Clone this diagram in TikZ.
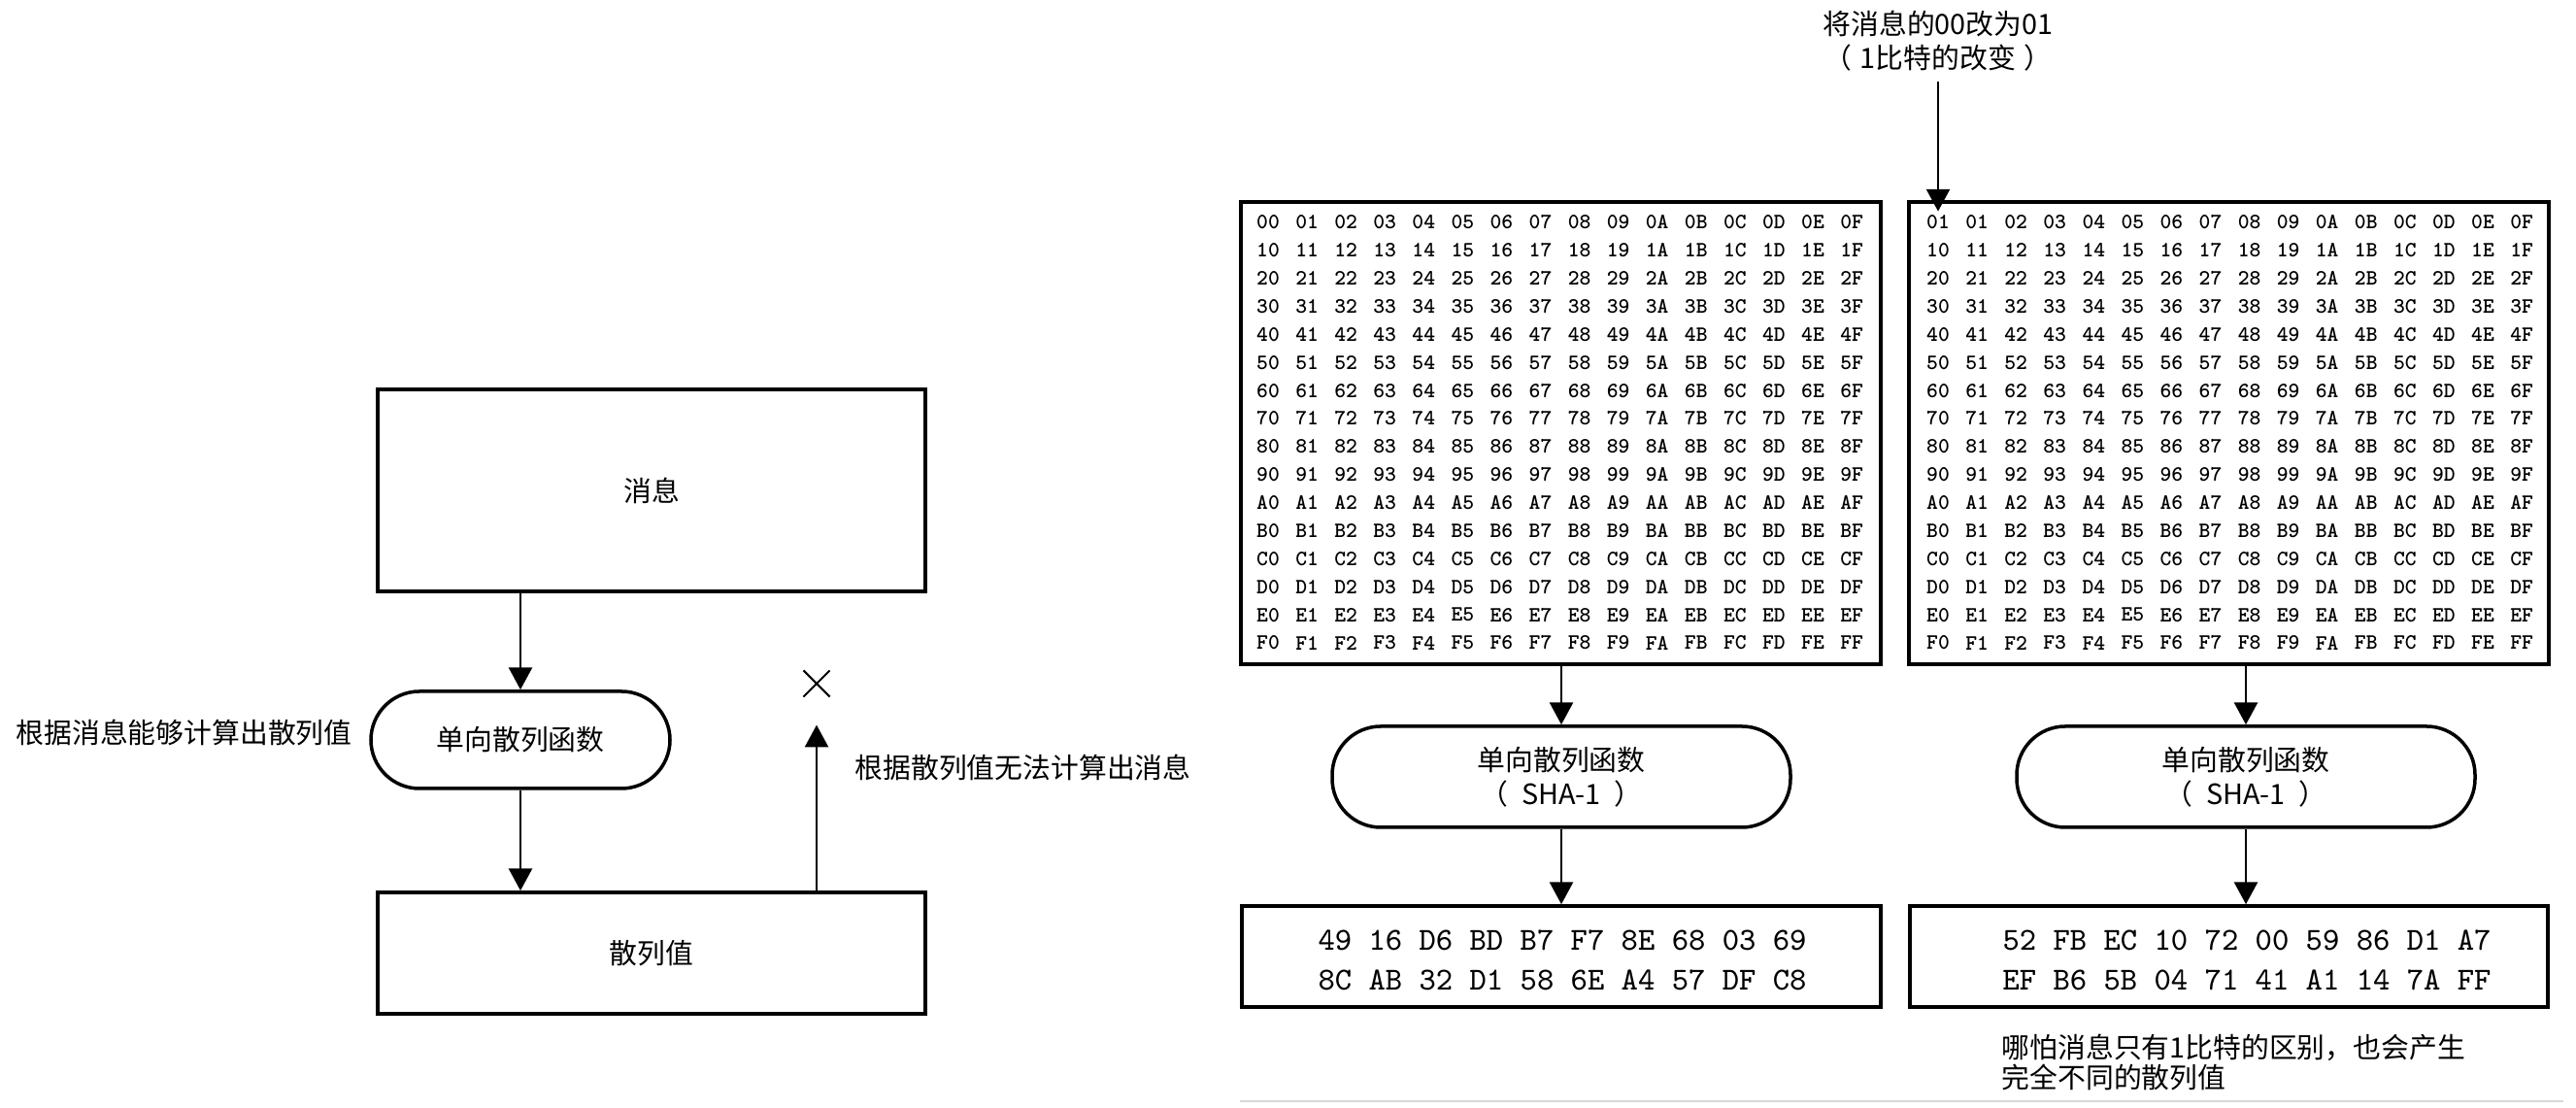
\documentclass[tikz,border=0pt]{standalone}
\usepackage{fontspec}
\setmainfont{Noto Sans CJK SC}
\usepackage{tikz}
\usetikzlibrary{arrows.meta,positioning,shapes.misc}
\tikzset{
  flow/.style={-{Triangle[length=6.5pt,width=6.8pt]},line width=0.8pt},
  block/.style={draw=black,line width=1pt,inner sep=0pt,align=center,
                font=\fontsize{8.2}{10}\selectfont},
  hashfn/.style={block,rounded corners=0.5cm},
  hexcell/.style={inner sep=1pt,font=\ttfamily\bfseries\fontsize{6.4}{7}\selectfont},
  digest/.style={inner sep=0pt,align=center,font=\ttfamily\fontsize{9.4}{11.7}\selectfont},
  lab/.style={inner sep=0pt,font=\fontsize{8.2}{10}\selectfont},
  note/.style={lab,align=left,font=\fontsize{8.2}{8.8}\selectfont},
  crossmark/.style={draw,cross out,line width=0.6pt,inner sep=0pt,minimum size=0.25cm},
}

\begin{document}
\begin{tikzpicture}[x=1cm,y=1cm]
  \path[use as bounding box] (0,0) rectangle (26.53,11.41);

  % one-way property
  \node[block,minimum width=5.64cm,minimum height=2.08cm] (msg) at (6.71,6.36) {消息};
  \node[hashfn,minimum width=3.08cm,minimum height=1.00cm] (fnL) at (5.36,3.79) {单向散列函数};
  \node[block,minimum width=5.64cm,minimum height=1.25cm] (hashL) at (6.71,1.595) {散列值};
  \node[crossmark] (nogo) at (8.41,4.37) {};
  \node[lab,left=0.17cm of fnL,yshift=0.08cm] (canL) {根据消息能够计算出散列值};
  \node[lab,anchor=west] (cantL) at (8.80,3.51) {根据散列值无法计算出消息};

  \draw[flow] (msg.south -| fnL) -- (fnL);
  \draw[flow] (fnL) -- (fnL |- hashL.north);
  \draw[flow,shorten >=0.29cm] (hashL.north -| nogo) -- (nogo);

  % avalanche: one changed bit
  \node[lab,align=center,inner sep=2.7pt] (chg) at (19.96,10.985)
    {将消息的00改为01\\（\hspace{2.5pt}1比特的改变\hspace{2.5pt}）};

  \node[block,minimum width=6.59cm,minimum height=4.76cm] (hexL) at (16.075,6.95) {};
  \node[block,minimum width=6.59cm,minimum height=4.76cm] (hexR) at (22.955,6.95) {};
  \foreach \r/\hr in {0/0,1/1,2/2,3/3,4/4,5/5,6/6,7/7,8/8,9/9,10/A,11/B,12/C,13/D,14/E,15/F}{
    \foreach \c/\hc in {0/0,1/1,2/2,3/3,4/4,5/5,6/6,7/7,8/8,9/9,10/A,11/B,12/C,13/D,14/E,15/F}{
      \def\cellR{\hr\hc}
      \ifnum\r=0 \ifnum\c=0 \def\cellR{01}\fi\fi
      \node[hexcell] (L-\r-\c) at ({13.06+0.4007*\c},{9.12-0.2887*\r}) {\hr\hc};
      \node[hexcell] (R-\r-\c) at ({19.96+0.4007*\c},{9.12-0.2887*\r}) {\cellR};
    }
  }

  \node[hashfn,minimum width=4.72cm,minimum height=1.04cm] (fnA) at (16.08,3.41)
    {单向散列函数\\（\hspace{4pt}SHA-1\hspace{4pt}）};
  \node[hashfn,minimum width=4.72cm,minimum height=1.04cm] (fnB) at (23.13,3.41)
    {单向散列函数\\（\hspace{4pt}SHA-1\hspace{4pt}）};
  \node[block,minimum width=6.58cm,minimum height=1.04cm] (outA) at (16.08,1.56) {};
  \node[block,minimum width=6.57cm,minimum height=1.04cm] (outB) at (22.955,1.56) {};
  \node[digest] (digA) at (16.09,1.525) {49 16 D6 BD B7 F7 8E 68 03 69\\8C AB 32 D1 58 6E A4 57 DF C8};
  \node[digest] (digB) at (23.14,1.525) {52 FB EC 10 72 00 59 86 D1 A7\\EF B6 5B 04 71 41 A1 14 7A FF};
  \node[note,anchor=north west] (diff) at (20.61,0.77) {哪怕消息只有1比特的区别，也会产生\\完全不同的散列值};

  \draw[flow] (chg.south) -- (R-0-0.north);
  \draw[flow] (hexL.south -| fnA) -- (fnA);
  \draw[flow] (fnA) -- (fnA |- outA.north);
  \draw[flow] (hexR.south -| fnB) -- (fnB);
  \draw[flow] (fnB) -- (fnB |- outB.north);

  \draw[black!15,line width=0.8pt] (12.77,0.07) -- (26.40,0.07);
\end{tikzpicture}
\end{document}
